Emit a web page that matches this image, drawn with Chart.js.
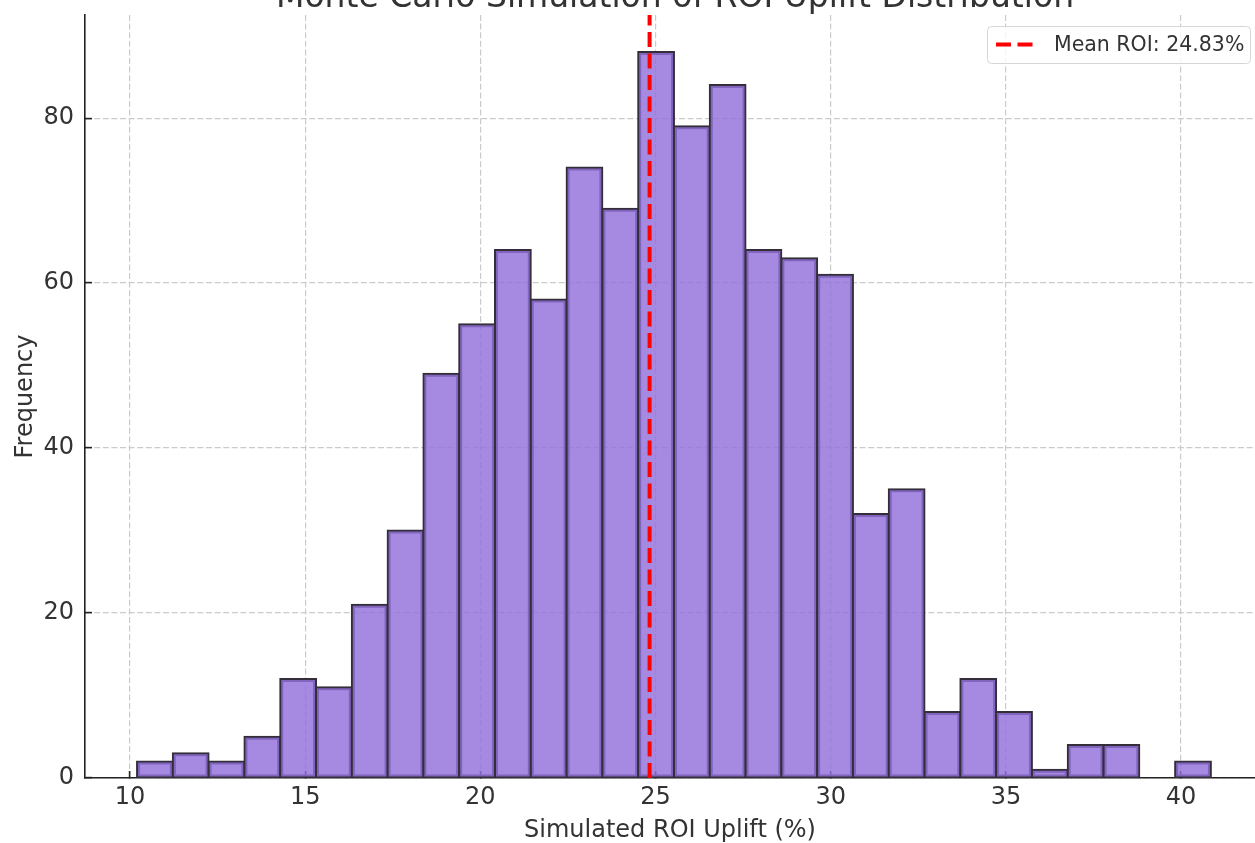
<!DOCTYPE html>
<html>
<head>
<meta charset="utf-8">
<title>ROI Uplift Distribution</title>
<script src="https://cdn.jsdelivr.net/npm/chart.js@4.4.1/dist/chart.umd.min.js"></script>
<style>
  body { margin: 0; background: #fff; }
  canvas { display: block; }
</style>
</head>
<body>
<canvas id="roiChart" width="1255" height="843"></canvas>
<script>
// histogram bins (edges) and counts
const binEdges = [10.200, 11.222, 12.243, 13.265, 14.287, 15.309, 16.330, 17.352, 18.374, 19.395,
                  20.417, 21.439, 22.461, 23.482, 24.504, 25.526, 26.547, 27.569, 28.591, 29.613,
                  30.634, 31.656, 32.678, 33.699, 34.721, 35.743, 36.765, 37.786, 38.808, 39.830, 40.851];
const binCounts = [2, 3, 2, 5, 12, 11, 21, 30, 49, 55,
                   64, 58, 74, 69, 88, 79, 84, 64, 63, 61,
                   32, 35, 8, 12, 8, 1, 4, 4, 0, 2];
const meanRoi = 24.83;

const xTicks = [10, 15, 20, 25, 30, 35, 40];
const yTicks = [0, 20, 40, 60, 80];
const xRange = [8.715, 42.11];
const yRange = [0, 92.5];

const chartTitle = 'Monte Carlo Simulation of ROI Uplift Distribution';
const xLabel = 'Simulated ROI Uplift (%)';
const yLabel = 'Frequency';
const legendLabel = 'Mean ROI: ' + meanRoi.toFixed(2) + '%';

const FONT = '"DejaVu Sans", Verdana, sans-serif';
const MEAN_DASH = [15, 6.5];

const barData = binCounts.map((count, i) => ({
    x: (binEdges[i] + binEdges[i + 1]) / 2,
    y: count
}));

// title (mostly above the canvas) + legend box inside the plot
const decorPlugin = {
    id: 'decor',
    afterDraw(chart) {
        const ctx = chart.ctx;
        ctx.save();

        ctx.font = '33px ' + FONT;
        ctx.fillStyle = '#333';
        ctx.textAlign = 'center';
        ctx.textBaseline = 'alphabetic';
        ctx.fillText(chartTitle, 675, 7);

        const bx = 987, by = 26, bw = 263, bh = 37;
        ctx.beginPath();
        ctx.roundRect(bx + 0.5, by + 0.5, bw, bh, 4);
        ctx.fillStyle = 'rgba(255,255,255,0.8)';
        ctx.fill();
        ctx.strokeStyle = '#d6d6d6';
        ctx.lineWidth = 1;
        ctx.stroke();

        ctx.beginPath();
        ctx.setLineDash(MEAN_DASH);
        ctx.moveTo(996, by + bh / 2);
        ctx.lineTo(1034, by + bh / 2);
        ctx.strokeStyle = '#ff0000';
        ctx.lineWidth = 4;
        ctx.stroke();
        ctx.setLineDash([]);

        ctx.font = '20.5px ' + FONT;
        ctx.fillStyle = '#333';
        ctx.textAlign = 'left';
        ctx.textBaseline = 'middle';
        ctx.fillText(legendLabel, 1054, by + bh / 2 + 1);

        ctx.restore();
    }
};

const ctx = document.getElementById('roiChart').getContext('2d');

new Chart(ctx, {
    type: 'bar',
    data: {
        datasets: [
            {
                type: 'line',
                label: legendLabel,
                data: [{ x: meanRoi, y: yRange[0] }, { x: meanRoi, y: yRange[1] }],
                borderColor: '#ff0000',
                borderWidth: 4,
                borderDash: MEAN_DASH,
                pointRadius: 0,
                fill: false,
                order: 0
            },
            {
                type: 'bar',
                label: 'Frequency',
                data: barData,
                backgroundColor: 'rgba(147,112,219,0.82)',
                borderColor: '#332e3a',
                borderWidth: 2,
                borderSkipped: false,
                inflateAmount: 1,
                barPercentage: 1,
                categoryPercentage: 1,
                order: 1
            }
        ]
    },
    options: {
        responsive: false,
        animation: false,
        devicePixelRatio: 1,
        layout: { padding: { top: 15, left: 0, right: 0, bottom: 0 } },
        plugins: {
            legend: { display: false },
            title: { display: false },
            tooltip: { enabled: false }
        },
        scales: {
            x: {
                type: 'linear',
                offset: false,
                min: xRange[0],
                max: xRange[1],
                afterBuildTicks: (scale) => { scale.ticks = xTicks.map(v => ({ value: v })); },
                afterFit: (scale) => {
                    scale.height = 65;
                    scale.paddingLeft = 0;
                    scale.paddingRight = 0;
                },
                grid: {
                    offset: false,
                    color: '#cbcbcb',
                    lineWidth: 1.2,
                    tickLength: -7,
                    tickColor: '#222',
                    tickWidth: 1.6
                },
                border: { display: true, color: '#222', width: 1.6, dash: [6, 2.6] },
                ticks: {
                    autoSkip: false,
                    maxRotation: 0,
                    padding: 12,
                    color: '#333',
                    font: { family: FONT, size: 24 }
                },
                title: {
                    display: true,
                    text: xLabel,
                    color: '#333',
                    padding: { top: 0, bottom: -2 },
                    font: { family: FONT, size: 24 }
                }
            },
            y: {
                type: 'linear',
                min: yRange[0],
                max: yRange[1],
                afterBuildTicks: (scale) => { scale.ticks = yTicks.map(v => ({ value: v })); },
                afterFit: (scale) => {
                    scale.width = 85;
                    scale.paddingTop = 0;
                    scale.paddingBottom = 0;
                },
                grid: {
                    color: '#cbcbcb',
                    lineWidth: 1.2,
                    tickLength: -7,
                    tickColor: '#222',
                    tickWidth: 1.6
                },
                border: { display: true, color: '#222', width: 1.6, dash: [6, 2.6] },
                ticks: {
                    autoSkip: false,
                    padding: 18,
                    color: '#333',
                    font: { family: FONT, size: 24 }
                },
                title: {
                    display: true,
                    text: yLabel,
                    color: '#333',
                    padding: { top: 11, bottom: 0 },
                    font: { family: FONT, size: 24 }
                }
            }
        }
    },
    plugins: [decorPlugin]
});
</script>
</body>
</html>
